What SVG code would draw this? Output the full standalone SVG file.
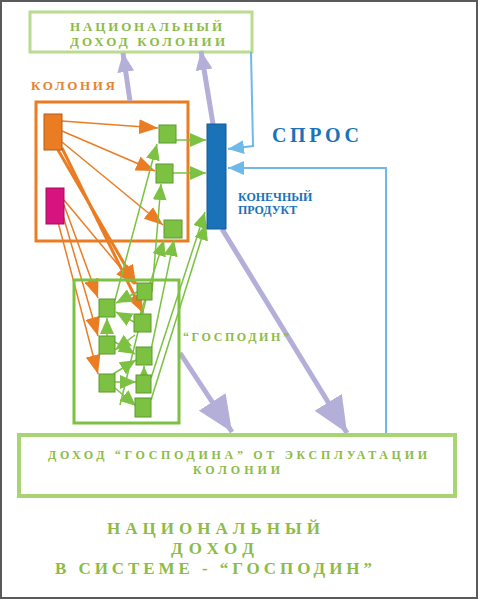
<svg xmlns="http://www.w3.org/2000/svg" width="480" height="600" viewBox="0 0 480 600">
<defs>
<style>
.t{font-family:"Liberation Serif","Noto Sans CJK SC",serif;font-weight:bold}
.g{fill:#8cbb47}
.sq{fill:#7cc142;stroke:#5c9a2c;stroke-width:1}
.or{stroke:#ea7d24;fill:none}
.gr{stroke:#7cc142;fill:none;stroke-width:1.5}
.lv{stroke:#b3afd8;fill:none;stroke-width:5}
.lb{stroke:#6fb9e8;fill:none;stroke-width:2}
</style>
<marker id="mo" markerUnits="userSpaceOnUse" markerWidth="19" markerHeight="15" refX="19" refY="7.5" orient="auto"><path d="M0,0 L19,7.5 L0,15 z" fill="#ea7d24"/></marker>
<marker id="mg" markerUnits="userSpaceOnUse" markerWidth="16" markerHeight="14" refX="16" refY="7" orient="auto"><path d="M0,0 L16,7 L0,14 z" fill="#7cc142"/></marker>
<marker id="mb" markerUnits="userSpaceOnUse" markerWidth="16" markerHeight="14" refX="16" refY="7" orient="auto"><path d="M0,0 L16,7 L0,14 z" fill="#6fb9e8"/></marker>
<marker id="ml" markerUnits="userSpaceOnUse" markerWidth="19" markerHeight="17" refX="19" refY="8.5" orient="auto"><path d="M0,0 L19,8.5 L0,17 z" fill="#b3afd8"/></marker>
<marker id="mL" markerUnits="userSpaceOnUse" markerWidth="36" markerHeight="32" refX="36" refY="16" orient="auto"><path d="M0,0 L36,16 L0,32 z" fill="#b3afd8"/></marker>
</defs>
<rect x="0" y="0" width="480" height="600" fill="#fff"/>
<rect x="1" y="1" width="476" height="597" fill="none" stroke="#5a5a5a" stroke-width="2"/>

<g id="nat-income-colony">
<rect x="30" y="12" width="222" height="40" fill="none" stroke="#b9dc8e" stroke-width="3"/>
<text class="t g" x="70" y="31" font-size="13" textLength="152" lengthAdjust="spacing">НАЦИОНАЛЬНЫЙ</text>
<text class="t g" x="70" y="46" font-size="13" textLength="155" lengthAdjust="spacing">ДОХОД КОЛОНИИ</text>
</g>

<g id="colony">
<text class="t" x="31" y="90" font-size="13" fill="#e9822e" textLength="84" lengthAdjust="spacing">КОЛОНИЯ</text>
<rect x="36" y="102" width="152" height="139" fill="none" stroke="#ea7d24" stroke-width="3"/>
</g>

<g id="connectors">
<path class="or" stroke-width="1.5" d="M62,121 L158,128" marker-end="url(#mo)"/>
<path class="or" stroke-width="1.5" d="M62,131 L155,171" marker-end="url(#mo)"/>
<path class="or" stroke-width="1.5" d="M62,142 L163,225" marker-end="url(#mo)"/>
<path class="or" stroke-width="3" d="M58,150 L136,284" marker-end="url(#mo)"/>
<path class="or" stroke-width="3" d="M62,148 L143,313" marker-end="url(#mo)"/>
<path class="or" stroke-width="1.5" d="M64,205 L98,298" marker-end="url(#mo)"/>
<path class="or" stroke-width="1.5" d="M62,212 L98,336" marker-end="url(#mo)"/>
<path class="or" stroke-width="1.5" d="M58,222 L98,374" marker-end="url(#mo)"/>
<path class="or" stroke-width="1.5" d="M64,200 L134,284" marker-end="url(#mo)"/>
<path class="gr" d="M176,140 L206,140" marker-end="url(#mg)"/>
<path class="gr" d="M173,173 L206,173" marker-end="url(#mg)"/>
<path class="gr" d="M115,300 L157,144" marker-end="url(#mg)"/>
<path class="gr" d="M152,292 L161,184" marker-end="url(#mg)"/>
<path class="gr" d="M140,315 L164,240" marker-end="url(#mg)"/>
<path class="gr" d="M151,350 L174,240" marker-end="url(#mg)"/>
<path class="gr" d="M151,378 L205,212" marker-end="url(#mg)"/>
<path class="gr" d="M151,400 L206,224" marker-end="url(#mg)"/>
<path class="gr" d="M120,405 L150,283"/>
<path class="gr" d="M137,292 L116,303" marker-end="url(#mg)"/>
<path class="gr" d="M134,322 L116,312" marker-end="url(#mg)"/>
<path class="gr" d="M107,336 L107,318" marker-end="url(#mg)"/>
<path class="gr" d="M115,342 L135,354" marker-end="url(#mg)"/>
<path class="gr" d="M135,335 L115,350" marker-end="url(#mg)"/>
<path class="gr" d="M115,382 L136,382" marker-end="url(#mg)"/>
<path class="gr" d="M115,388 L136,406" marker-end="url(#mg)"/>
<path class="gr" d="M113,374 L136,360" marker-end="url(#mg)"/>
<path class="gr" d="M144,378 L144,366" marker-end="url(#mg)"/>
<path class="lv" d="M130,101 L123,53" marker-end="url(#ml)"/>
<path class="lv" d="M213,124 L201,51" marker-end="url(#ml)"/>
<path class="lv" d="M180,353 L232,432" marker-end="url(#mL)"/>
<path class="lv" d="M222,229 L347,433" marker-end="url(#mL)"/>
<path class="lb" d="M251,52 L253,146 L228,149" marker-end="url(#mb)"/>
<path class="lb" d="M386,433 L386,168 L228,168" marker-end="url(#mb)"/>
</g>

<g id="orange-node"><rect x="44" y="114" width="18" height="36" fill="#ea7d24" stroke="#b85a14" stroke-width="1"/></g>
<g id="magenta-node"><rect x="46" y="188" width="18" height="36" fill="#d7137f" stroke="#a50d5f" stroke-width="1"/></g>
<g id="col-a"><rect class="sq" x="159" y="125" width="17" height="18"/></g>
<g id="col-b"><rect class="sq" x="156" y="164" width="17" height="19"/></g>
<g id="col-c"><rect class="sq" x="164" y="220" width="18" height="18"/></g>

<g id="final-product">
<rect x="207" y="124" width="19" height="105" fill="#1a72b8" stroke="#125a94" stroke-width="1"/>
<text class="t" x="238" y="201" font-size="12" fill="#1a72b8">КОНЕЧНЫЙ</text>
<text class="t" x="238" y="214" font-size="12" fill="#1a72b8">ПРОДУКТ</text>
</g>
<g id="demand"><text class="t" x="272" y="142" font-size="20" fill="#1a72b8" textLength="87" lengthAdjust="spacing">СПРОС</text></g>

<g id="gospodin">
<rect x="74" y="280" width="105" height="143" fill="none" stroke="#7cc142" stroke-width="3"/>
<rect class="sq" x="99" y="299" width="16" height="18"/>
<rect class="sq" x="99" y="336" width="16" height="18"/>
<rect class="sq" x="99" y="374" width="16" height="18"/>
<rect class="sq" x="137" y="283" width="15" height="17"/>
<rect class="sq" x="134" y="314" width="17" height="18"/>
<rect class="sq" x="136" y="347" width="16" height="18"/>
<rect class="sq" x="136" y="375" width="15" height="18"/>
<rect class="sq" x="135" y="398" width="16" height="19"/>
<text class="t g" x="183" y="341" font-size="12" textLength="106" lengthAdjust="spacing">“ГОСПОДИН”</text>
</g>

<g id="gospodin-income">
<rect x="19" y="435" width="436" height="61" fill="none" stroke="#a9d473" stroke-width="4"/>
<text class="t g" x="48" y="459" font-size="12" textLength="379" lengthAdjust="spacing">ДОХОД “ГОСПОДИНА” ОТ  ЭКСПЛУАТАЦИИ</text>
<text class="t g" x="193" y="474" font-size="12" textLength="87" lengthAdjust="spacing">КОЛОНИИ</text>
</g>

<g id="title">
<text class="t g" x="107" y="534" font-size="17" textLength="213" lengthAdjust="spacing">НАЦИОНАЛЬНЫЙ</text>
<text class="t g" x="171" y="554" font-size="17" textLength="83" lengthAdjust="spacing">ДОХОД</text>
<text class="t g" x="55" y="574" font-size="17" textLength="317" lengthAdjust="spacing">В СИСТЕМЕ - “ГОСПОДИН”</text>
</g>
</svg>
